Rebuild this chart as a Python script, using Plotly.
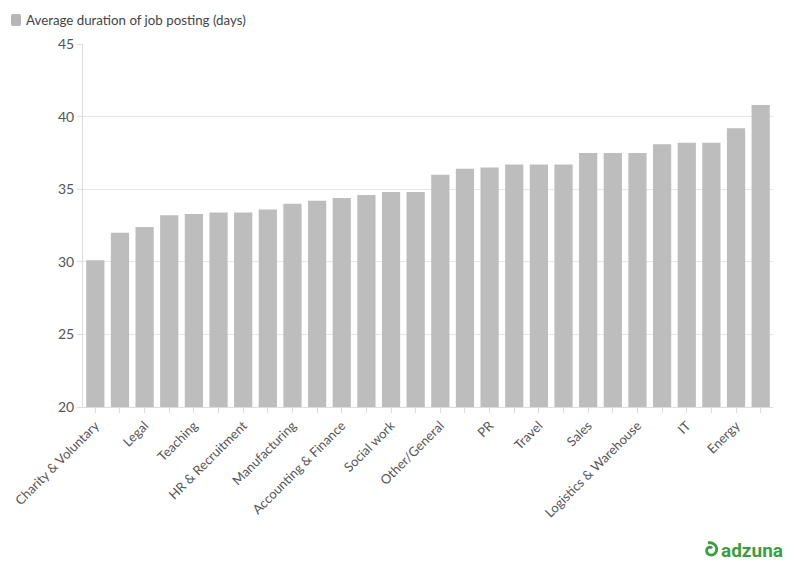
import math
import plotly.graph_objects as go

categories = [
    "Charity & Voluntary", "Creative & Design", "Legal", "Graduate",
    "Teaching", "Admin", "HR & Recruitment", "Retail",
    "Manufacturing", "Healthcare & Nursing", "Accounting & Finance", "Customer Services",
    "Social work", "Hospitality & Catering", "Other/General", "Advertising & Marketing",
    "PR", "Property", "Travel", "Consultancy",
    "Sales", "Trade & Construction", "Logistics & Warehouse", "Scientific & QA",
    "IT", "Engineering", "Energy", "Maintenance",
]
durations = [
    30.1, 32.0, 32.4, 33.2, 33.3, 33.4, 33.4, 33.6, 34.0, 34.2, 34.4, 34.6, 34.8, 34.8,
    36.0, 36.4, 36.5, 36.7, 36.7, 36.7, 37.5, 37.5, 37.5, 38.1, 38.2, 38.2, 39.2, 40.8,
]
tick_text = [c if i % 2 == 0 else "" for i, c in enumerate(categories)]
y_ticks = [20, 25, 30, 35, 40, 45]
series_name = "Average duration of job posting (days)"

FONT = "Lato"
GRID = "#e6e6e6"
BAR = "#bdbdbd"
GREEN = "#3a9e3f"

fig = go.Figure(
    go.Bar(
        x=categories,
        y=durations,
        name=series_name,
        marker=dict(color=BAR, line=dict(width=0)),
        showlegend=False,
    )
)

# logo swirl (decoration), drawn in pixel units
pts = []
n = 48
for k in range(n + 1):
    t = k / n
    ang = math.radians(50) + t * math.radians(420)
    r = 2.2 + 5.3 * t
    pts.append((r * math.cos(ang), r * math.sin(ang)))
swirl = "M " + " L ".join(f"{x:.2f},{y:.2f}" for x, y in pts)

legend_swatch = "M 2,0 L 8,0 Q 10,0 10,2 L 10,10 Q 10,12 8,12 L 2,12 Q 0,12 0,10 L 0,2 Q 0,0 2,0 Z"

fig.update_layout(
    width=794,
    height=575,
    margin=dict(l=83, r=21, t=44, b=168, autoexpand=False),
    paper_bgcolor="white",
    plot_bgcolor="white",
    bargap=0.26,
    font=dict(family=FONT, size=13, color="#555555"),
    showlegend=False,
    xaxis=dict(
        type="category",
        tickmode="array",
        tickvals=categories,
        ticktext=tick_text,
        tickangle=-45,
        ticks="outside",
        ticklen=5,
        tickcolor="#dddddd",
        showline=True,
        linecolor="#dddddd",
        showgrid=False,
        automargin=False,
        tickfont=dict(family=FONT, size=13, color="#555555"),
    ),
    yaxis=dict(
        range=[20, 45],
        tickvals=y_ticks,
        ticks="outside",
        ticklen=5,
        tickcolor="#dddddd",
        showline=True,
        linecolor="#dddddd",
        gridcolor=GRID,
        zeroline=False,
        automargin=False,
        tickfont=dict(family=FONT, size=14, color="#555555"),
    ),
    shapes=[
        dict(
            type="path", path=legend_swatch,
            xref="paper", yref="paper",
            xsizemode="pixel", ysizemode="pixel",
            xanchor=(11 - 83) / 690, yanchor=(407 - 26) / 363,
            fillcolor="#b5b5b5", line=dict(width=0),
        ),
        dict(
            type="path", path=swirl,
            xref="paper", yref="paper",
            xsizemode="pixel", ysizemode="pixel",
            xanchor=(710.5 - 83) / 690, yanchor=(407 - 550) / 363,
            line=dict(color=GREEN, width=2.8),
        ),
    ],
    annotations=[
        dict(
            text=series_name,
            xref="paper", yref="paper",
            x=(24 - 83) / 690, y=(407 - 20) / 363,
            xanchor="left", yanchor="middle",
            showarrow=False,
            font=dict(family=FONT, size=13.3, color="#444444"),
        ),
        dict(
            text="<b>adzuna</b>",
            xref="paper", yref="paper",
            x=(785 - 83) / 690, y=(407 - 550) / 363,
            xanchor="right", yanchor="middle",
            showarrow=False,
            font=dict(family="Roboto", size=19, color=GREEN),
        ),
    ],
)

fig.write_html(
    "out.html",
    config={"displayModeBar": False},
    post_script="document.body.style.margin='0';document.body.style.padding='0';",
)
